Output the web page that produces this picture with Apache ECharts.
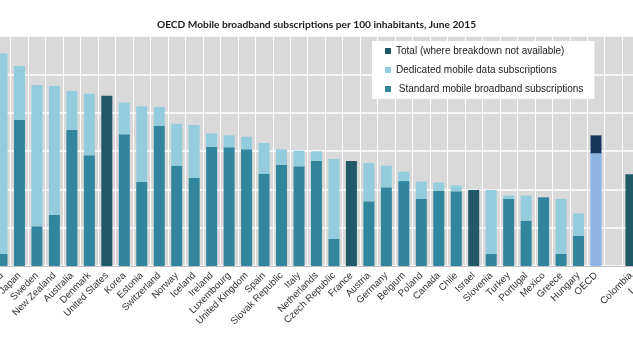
<!DOCTYPE html>
<html>
<head>
<meta charset="utf-8">
<script src="https://cdn.jsdelivr.net/npm/echarts@6/dist/echarts.min.js"></script>
<style>html,body{margin:0;padding:0;background:#fff}#c{width:633px;height:350px}</style>
</head>
<body>
<div id="c"></div>
<script>
const categories = ['Finland','Japan','Sweden','New Zealand','Australia','Denmark','United States','Korea','Estonia','Switzerland','Norway','Iceland','Ireland','Luxembourg','United Kingdom','Spain','Slovak Republic','Italy','Netherlands','Czech Republic','France','Austria','Germany','Belgium','Poland','Canada','Chile','Israel','Slovenia','Turkey','Portugal','Mexico','Greece','Hungary','OECD','','Colombia','Latvia'];
const standard = [7.8,95.4,25.9,33.3,88.7,72.2,null,85.9,54.8,91.5,65.4,57.4,77.8,77.4,76.1,60.0,66.1,65.0,68.5,17.6,null,42.2,51.3,55.4,43.7,49.1,48.7,null,7.8,43.7,29.6,44.8,8.0,19.8,73.5,null,null,null];
const dedicated = [130.9,35.0,92.1,84.1,25.4,40.2,null,20.6,49.3,12.2,27.4,34.6,8.7,7.8,8.2,20.2,10.0,10.2,6.3,52.2,null,25.0,14.1,6.1,11.3,5.2,3.9,null,41.8,2.2,16.3,null,35.7,14.5,11.7,null,null,null];
const total = [null,null,null,null,null,null,111.1,null,null,null,null,null,null,null,null,null,null,null,null,null,68.5,null,null,null,null,null,null,49.6,null,null,null,null,null,null,null,null,59.8,null];
const yTicks = {min:0, max:150, interval:25};

const C_STD = '#31859C', C_DED = '#93CDDD', C_TOT = '#215968';
const C_OECD_STD = '#8DB4E2', C_OECD_DED = '#17375E';

const NAME_TOT = 'Total (where breakdown not available)';
const NAME_DED = 'Dedicated mobile data subscriptions';
const NAME_STD = ' Standard mobile broadband subscriptions';

function withOecd(arr, col){
  return arr.map((v,i)=> categories[i]==='OECD' && v!=null ? {value:v, itemStyle:{color:col}} : v);
}

const chart = echarts.init(document.getElementById('c'), null, {renderer:'canvas'});
chart.setOption({
  animation:false,
  backgroundColor:'#fff',
  title:{
    text:'OECD Mobile broadband subscriptions per 100 inhabitants, June 2015',
    left:'center', top:15,
    textStyle:{fontFamily:'Lato', fontWeight:'bold', fontSize:10.2, color:'#1a1a1a'}
  },
  legend:{
    orient:'vertical', left:372, top:41,
    backgroundColor:'#fff',
    padding:[4,11,4,13],
    itemGap:7, itemWidth:6, itemHeight:6, icon:'rect',
    data:[NAME_TOT, NAME_DED, NAME_STD],
    textStyle:{fontFamily:'Liberation Sans', fontSize:10, lineHeight:12, color:'#1a1a1a'}
  },
  grid:{
    left:-6.74, width:663.9, top:36, height:230,
    show:true, backgroundColor:'#D9D9D9', borderWidth:0,
    containLabel:false, outerBoundsMode:'none'
  },
  xAxis:{
    type:'category', data:categories,
    axisLine:{lineStyle:{color:'#BFBFBF', width:1}},
    axisTick:{show:false},
    splitLine:{show:true, interval:0, lineStyle:{color:'#fff', width:1}},
    axisLabel:{interval:0, rotate:45, margin:8, fontFamily:'Liberation Sans', fontSize:9.7, color:'#333'}
  },
  yAxis:{
    type:'value', min:yTicks.min, max:yTicks.max, interval:yTicks.interval,
    axisLabel:{show:false}, axisLine:{show:false}, axisTick:{show:false},
    splitLine:{lineStyle:{color:'#fff', width:1.5}}
  },
  series:[
    {name:NAME_STD, type:'bar', stack:'s', barWidth:11, data:withOecd(standard, C_OECD_STD), itemStyle:{color:C_STD}},
    {name:NAME_DED, type:'bar', stack:'s', barWidth:11, data:withOecd(dedicated, C_OECD_DED), itemStyle:{color:C_DED}},
    {name:NAME_TOT, type:'bar', stack:'s', barWidth:11, data:total, itemStyle:{color:C_TOT}}
  ]
});
</script>
</body>
</html>
